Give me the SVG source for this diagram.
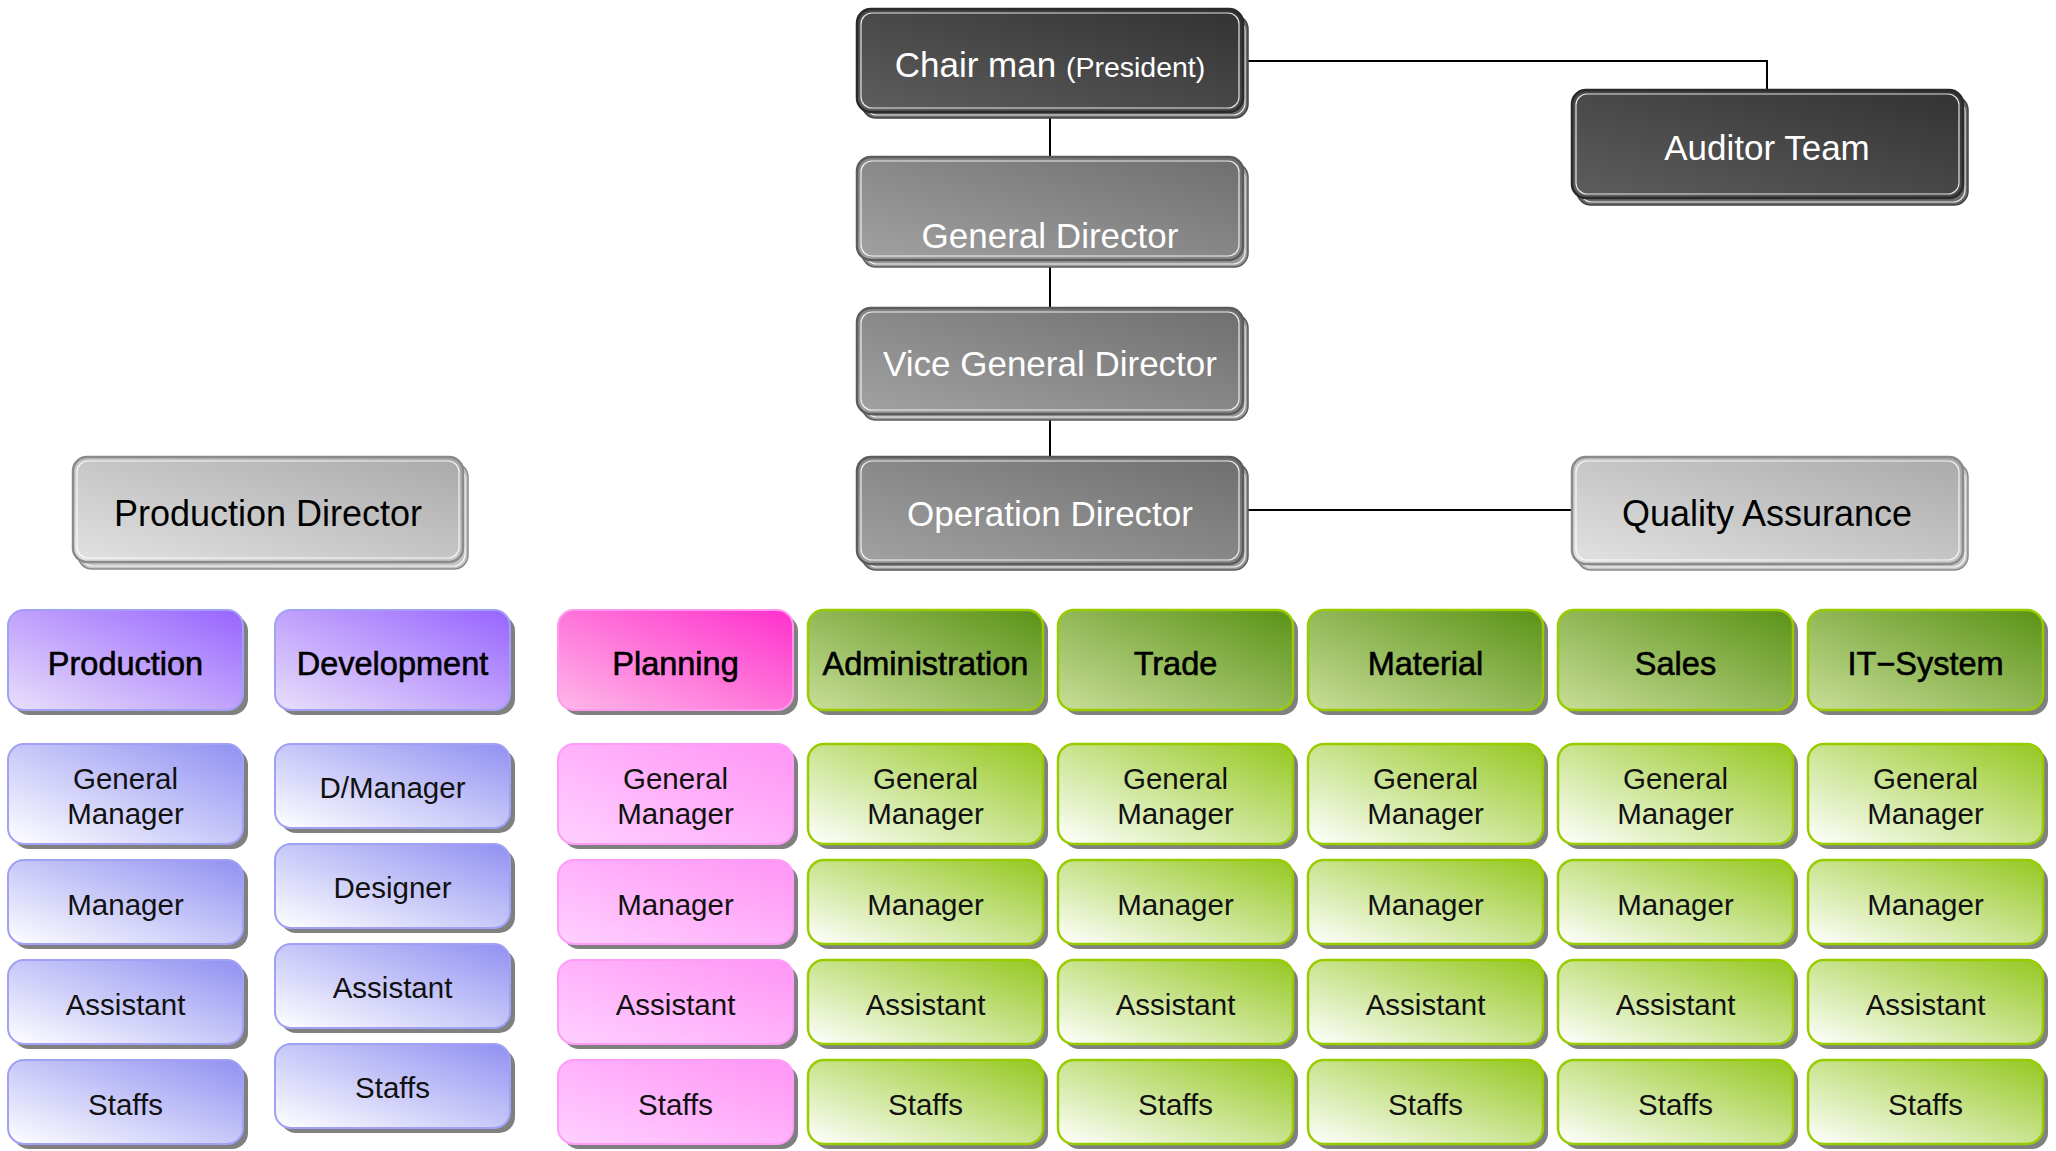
<svg xmlns="http://www.w3.org/2000/svg" width="2056" height="1151" viewBox="0 0 2056 1151">
<defs>
<linearGradient id="gDark" x1="0" y1="1" x2="1" y2="0"><stop offset="0" stop-color="#5e5e5e"/><stop offset="1" stop-color="#323232"/></linearGradient>
<linearGradient id="gMid" x1="0" y1="1" x2="1" y2="0"><stop offset="0" stop-color="#a2a2a2"/><stop offset="1" stop-color="#6e6e6e"/></linearGradient>
<linearGradient id="gLight" x1="0" y1="1" x2="1" y2="0"><stop offset="0" stop-color="#e2e2e2"/><stop offset="1" stop-color="#a9a9a9"/></linearGradient>
<linearGradient id="gPurH" x1="0" y1="1" x2="1" y2="0"><stop offset="0" stop-color="#e8e0fa"/><stop offset="1" stop-color="#9863ff"/></linearGradient>
<linearGradient id="gPurS" x1="0" y1="1" x2="1" y2="0"><stop offset="0" stop-color="#ffffff"/><stop offset="1" stop-color="#9090f2"/></linearGradient>
<linearGradient id="gPinH" x1="0" y1="1" x2="1" y2="0"><stop offset="0" stop-color="#ffb8e8"/><stop offset="1" stop-color="#ff30cc"/></linearGradient>
<linearGradient id="gPinS" x1="0" y1="1" x2="1" y2="0"><stop offset="0" stop-color="#ffd0ff"/><stop offset="1" stop-color="#ff94f5"/></linearGradient>
<linearGradient id="gGrnH" x1="0" y1="1" x2="1" y2="0"><stop offset="0" stop-color="#c8de98"/><stop offset="1" stop-color="#5a9216"/></linearGradient>
<linearGradient id="gGrnS" x1="0" y1="1" x2="1" y2="0"><stop offset="0" stop-color="#ffffff"/><stop offset="1" stop-color="#94c820"/></linearGradient>
</defs>
<style>
text{font-family:"Liberation Sans",Arial,sans-serif;text-anchor:middle}
.tw{fill:#ffffff;font-size:35px}
.tb{fill:#000000;font-size:36px}
.th{fill:#000;font-size:32.5px;stroke:#000;stroke-width:0.6}
.ts{fill:#111;font-size:29.5px}
.sh{fill:#808080}
.hl{fill:none;stroke:#ffffff;stroke-width:1.2;opacity:0.85}
.dark{fill:url(#gDark);stroke:#2a2a2a;stroke-width:2.5}
.darksh{fill:#6a6a6a;stroke:#444;stroke-width:1.5}
.mid{fill:url(#gMid);stroke:#5c5c5c;stroke-width:2.5}
.midsh{fill:#9a9a9a;stroke:#5c5c5c;stroke-width:1.5}
.light{fill:url(#gLight);stroke:#8a8a8a;stroke-width:2.5}
.lightsh{fill:#c4c4c4;stroke:#8a8a8a;stroke-width:1.5}
.purH{fill:url(#gPurH);stroke:#a0a0f4;stroke-width:2}
.purS{fill:url(#gPurS);stroke:#a0a0f4;stroke-width:2}
.pinH{fill:url(#gPinH);stroke:#ff99ee;stroke-width:2}
.pinS{fill:url(#gPinS);stroke:#ff9cf8;stroke-width:2}
.grnH{fill:url(#gGrnH);stroke:#99cc00;stroke-width:2.5}
.grnS{fill:url(#gGrnS);stroke:#99cc00;stroke-width:2.5}
.conn{fill:none;stroke:#000;stroke-width:2}
</style>
<rect width="2056" height="1151" fill="#ffffff"/>

<g id="connectors">
<line class="conn" x1="1050" y1="112" x2="1050" y2="157"/>
<line class="conn" x1="1050" y1="262" x2="1050" y2="308"/>
<line class="conn" x1="1050" y1="415" x2="1050" y2="457"/>
<polyline class="conn" points="1245,61 1767,61 1767,91"/>
<line class="conn" x1="1245" y1="510" x2="1572" y2="510"/>
</g>

<g id="chairman">
<rect class="darksh" x="862" y="15" width="386" height="103" rx="14"/>
<rect class="hl" x="865" y="19" width="380" height="96" rx="12"/>
<rect class="dark" x="857" y="9" width="386" height="103" rx="14"/>
<rect class="hl" x="861" y="13" width="378" height="95" rx="11"/>
<text x="1050" y="77"><tspan class="tw">Chair man </tspan><tspan fill="#fff" font-size="28.5">(President)</tspan></text>
</g>

<g id="auditor-team">
<rect class="darksh" x="1577" y="96" width="391" height="109" rx="14"/>
<rect class="hl" x="1580" y="100" width="385" height="102" rx="12"/>
<rect class="dark" x="1572" y="90" width="391" height="108" rx="14"/>
<rect class="hl" x="1576" y="94" width="383" height="100" rx="11"/>
<text class="tw" x="1767" y="160">Auditor Team</text>
</g>

<g id="general-director">
<rect class="midsh" x="862" y="163" width="386" height="104" rx="14"/>
<rect class="hl" x="865" y="167" width="380" height="97" rx="12"/>
<rect class="mid" x="857" y="157" width="386" height="103" rx="14"/>
<rect class="hl" x="861" y="161" width="378" height="95" rx="11"/>
<text class="tw" x="1050" y="248">General Director</text>
</g>

<g id="vice-general-director">
<rect class="midsh" x="862" y="314" width="386" height="106" rx="14"/>
<rect class="hl" x="865" y="318" width="380" height="99" rx="12"/>
<rect class="mid" x="857" y="308" width="386" height="106" rx="14"/>
<rect class="hl" x="861" y="312" width="378" height="98" rx="11"/>
<text class="tw" x="1050" y="376">Vice General Director</text>
</g>

<g id="operation-director">
<rect class="midsh" x="862" y="463" width="386" height="107" rx="14"/>
<rect class="hl" x="865" y="467" width="380" height="100" rx="12"/>
<rect class="mid" x="857" y="457" width="386" height="107" rx="14"/>
<rect class="hl" x="861" y="461" width="378" height="99" rx="11"/>
<text class="tw" x="1050" y="526">Operation Director</text>
</g>

<g id="production-director">
<rect class="lightsh" x="78" y="463" width="390" height="106" rx="14"/>
<rect class="hl" x="81" y="467" width="384" height="99" rx="12"/>
<rect class="light" x="73" y="457" width="390" height="105" rx="14"/>
<rect class="hl" x="77" y="461" width="382" height="97" rx="11"/>
<text class="tb" x="268" y="526">Production Director</text>
</g>

<g id="quality-assurance">
<rect class="lightsh" x="1577" y="463" width="391" height="107" rx="14"/>
<rect class="hl" x="1580" y="467" width="385" height="100" rx="12"/>
<rect class="light" x="1572" y="457" width="391" height="107" rx="14"/>
<rect class="hl" x="1576" y="461" width="383" height="99" rx="11"/>
<text class="tb" x="1767" y="526">Quality Assurance</text>
</g>

<!-- Production column -->
<g id="production">
<rect class="sh" x="13" y="615" width="235" height="100" rx="16"/>
<rect class="purH" x="8" y="610" width="235" height="100" rx="16"/>
<text class="th" x="125.5" y="675">Production</text>
</g>
<g id="production-gm">
<rect class="sh" x="13" y="749" width="235" height="100" rx="16"/>
<rect class="purS" x="8" y="744" width="235" height="100" rx="16"/>
<text class="ts" x="125.5" y="789">General</text>
<text class="ts" x="125.5" y="824">Manager</text>
</g>
<g id="production-manager">
<rect class="sh" x="13" y="865" width="235" height="84" rx="16"/>
<rect class="purS" x="8" y="860" width="235" height="84" rx="16"/>
<text class="ts" x="125.5" y="915">Manager</text>
</g>
<g id="production-assistant">
<rect class="sh" x="13" y="965" width="235" height="84" rx="16"/>
<rect class="purS" x="8" y="960" width="235" height="84" rx="16"/>
<text class="ts" x="125.5" y="1015">Assistant</text>
</g>
<g id="production-staffs">
<rect class="sh" x="13" y="1065" width="235" height="84" rx="16"/>
<rect class="purS" x="8" y="1060" width="235" height="84" rx="16"/>
<text class="ts" x="125.5" y="1115">Staffs</text>
</g>

<!-- Development column -->
<g id="development">
<rect class="sh" x="280" y="615" width="235" height="100" rx="16"/>
<rect class="purH" x="275" y="610" width="235" height="100" rx="16"/>
<text class="th" x="392.5" y="675">Development</text>
</g>
<g id="development-dmanager">
<rect class="sh" x="280" y="749" width="235" height="84" rx="16"/>
<rect class="purS" x="275" y="744" width="235" height="84" rx="16"/>
<text class="ts" x="392.5" y="798">D/Manager</text>
</g>
<g id="development-designer">
<rect class="sh" x="280" y="849" width="235" height="84" rx="16"/>
<rect class="purS" x="275" y="844" width="235" height="84" rx="16"/>
<text class="ts" x="392.5" y="898">Designer</text>
</g>
<g id="development-assistant">
<rect class="sh" x="280" y="949" width="235" height="84" rx="16"/>
<rect class="purS" x="275" y="944" width="235" height="84" rx="16"/>
<text class="ts" x="392.5" y="998">Assistant</text>
</g>
<g id="development-staffs">
<rect class="sh" x="280" y="1049" width="235" height="84" rx="16"/>
<rect class="purS" x="275" y="1044" width="235" height="84" rx="16"/>
<text class="ts" x="392.5" y="1098">Staffs</text>
</g>

<!-- Planning column -->
<g id="planning">
<rect class="sh" x="563" y="615" width="235" height="100" rx="16"/>
<rect class="pinH" x="558" y="610" width="235" height="100" rx="16"/>
<text class="th" x="675.5" y="675">Planning</text>
</g>
<g id="planning-gm">
<rect class="sh" x="563" y="749" width="235" height="100" rx="16"/>
<rect class="pinS" x="558" y="744" width="235" height="100" rx="16"/>
<text class="ts" x="675.5" y="789">General</text>
<text class="ts" x="675.5" y="824">Manager</text>
</g>
<g id="planning-manager">
<rect class="sh" x="563" y="865" width="235" height="84" rx="16"/>
<rect class="pinS" x="558" y="860" width="235" height="84" rx="16"/>
<text class="ts" x="675.5" y="915">Manager</text>
</g>
<g id="planning-assistant">
<rect class="sh" x="563" y="965" width="235" height="84" rx="16"/>
<rect class="pinS" x="558" y="960" width="235" height="84" rx="16"/>
<text class="ts" x="675.5" y="1015">Assistant</text>
</g>
<g id="planning-staffs">
<rect class="sh" x="563" y="1065" width="235" height="84" rx="16"/>
<rect class="pinS" x="558" y="1060" width="235" height="84" rx="16"/>
<text class="ts" x="675.5" y="1115">Staffs</text>
</g>

<!-- Administration -->
<g id="administration">
<rect class="sh" x="813" y="615" width="235" height="100" rx="16"/>
<rect class="grnH" x="808" y="610" width="235" height="100" rx="16"/>
<text class="th" x="925.5" y="675">Administration</text>
</g>
<g id="administration-gm">
<rect class="sh" x="813" y="749" width="235" height="100" rx="16"/>
<rect class="grnS" x="808" y="744" width="235" height="100" rx="16"/>
<text class="ts" x="925.5" y="789">General</text>
<text class="ts" x="925.5" y="824">Manager</text>
</g>
<g id="administration-manager">
<rect class="sh" x="813" y="865" width="235" height="84" rx="16"/>
<rect class="grnS" x="808" y="860" width="235" height="84" rx="16"/>
<text class="ts" x="925.5" y="915">Manager</text>
</g>
<g id="administration-assistant">
<rect class="sh" x="813" y="965" width="235" height="84" rx="16"/>
<rect class="grnS" x="808" y="960" width="235" height="84" rx="16"/>
<text class="ts" x="925.5" y="1015">Assistant</text>
</g>
<g id="administration-staffs">
<rect class="sh" x="813" y="1065" width="235" height="84" rx="16"/>
<rect class="grnS" x="808" y="1060" width="235" height="84" rx="16"/>
<text class="ts" x="925.5" y="1115">Staffs</text>
</g>

<!-- Trade -->
<g id="trade">
<rect class="sh" x="1063" y="615" width="235" height="100" rx="16"/>
<rect class="grnH" x="1058" y="610" width="235" height="100" rx="16"/>
<text class="th" x="1175.5" y="675">Trade</text>
</g>
<g id="trade-gm">
<rect class="sh" x="1063" y="749" width="235" height="100" rx="16"/>
<rect class="grnS" x="1058" y="744" width="235" height="100" rx="16"/>
<text class="ts" x="1175.5" y="789">General</text>
<text class="ts" x="1175.5" y="824">Manager</text>
</g>
<g id="trade-manager">
<rect class="sh" x="1063" y="865" width="235" height="84" rx="16"/>
<rect class="grnS" x="1058" y="860" width="235" height="84" rx="16"/>
<text class="ts" x="1175.5" y="915">Manager</text>
</g>
<g id="trade-assistant">
<rect class="sh" x="1063" y="965" width="235" height="84" rx="16"/>
<rect class="grnS" x="1058" y="960" width="235" height="84" rx="16"/>
<text class="ts" x="1175.5" y="1015">Assistant</text>
</g>
<g id="trade-staffs">
<rect class="sh" x="1063" y="1065" width="235" height="84" rx="16"/>
<rect class="grnS" x="1058" y="1060" width="235" height="84" rx="16"/>
<text class="ts" x="1175.5" y="1115">Staffs</text>
</g>

<!-- Material -->
<g id="material">
<rect class="sh" x="1313" y="615" width="235" height="100" rx="16"/>
<rect class="grnH" x="1308" y="610" width="235" height="100" rx="16"/>
<text class="th" x="1425.5" y="675">Material</text>
</g>
<g id="material-gm">
<rect class="sh" x="1313" y="749" width="235" height="100" rx="16"/>
<rect class="grnS" x="1308" y="744" width="235" height="100" rx="16"/>
<text class="ts" x="1425.5" y="789">General</text>
<text class="ts" x="1425.5" y="824">Manager</text>
</g>
<g id="material-manager">
<rect class="sh" x="1313" y="865" width="235" height="84" rx="16"/>
<rect class="grnS" x="1308" y="860" width="235" height="84" rx="16"/>
<text class="ts" x="1425.5" y="915">Manager</text>
</g>
<g id="material-assistant">
<rect class="sh" x="1313" y="965" width="235" height="84" rx="16"/>
<rect class="grnS" x="1308" y="960" width="235" height="84" rx="16"/>
<text class="ts" x="1425.5" y="1015">Assistant</text>
</g>
<g id="material-staffs">
<rect class="sh" x="1313" y="1065" width="235" height="84" rx="16"/>
<rect class="grnS" x="1308" y="1060" width="235" height="84" rx="16"/>
<text class="ts" x="1425.5" y="1115">Staffs</text>
</g>

<!-- Sales -->
<g id="sales">
<rect class="sh" x="1563" y="615" width="235" height="100" rx="16"/>
<rect class="grnH" x="1558" y="610" width="235" height="100" rx="16"/>
<text class="th" x="1675.5" y="675">Sales</text>
</g>
<g id="sales-gm">
<rect class="sh" x="1563" y="749" width="235" height="100" rx="16"/>
<rect class="grnS" x="1558" y="744" width="235" height="100" rx="16"/>
<text class="ts" x="1675.5" y="789">General</text>
<text class="ts" x="1675.5" y="824">Manager</text>
</g>
<g id="sales-manager">
<rect class="sh" x="1563" y="865" width="235" height="84" rx="16"/>
<rect class="grnS" x="1558" y="860" width="235" height="84" rx="16"/>
<text class="ts" x="1675.5" y="915">Manager</text>
</g>
<g id="sales-assistant">
<rect class="sh" x="1563" y="965" width="235" height="84" rx="16"/>
<rect class="grnS" x="1558" y="960" width="235" height="84" rx="16"/>
<text class="ts" x="1675.5" y="1015">Assistant</text>
</g>
<g id="sales-staffs">
<rect class="sh" x="1563" y="1065" width="235" height="84" rx="16"/>
<rect class="grnS" x="1558" y="1060" width="235" height="84" rx="16"/>
<text class="ts" x="1675.5" y="1115">Staffs</text>
</g>

<!-- IT-System -->
<g id="it-system">
<rect class="sh" x="1813" y="615" width="235" height="100" rx="16"/>
<rect class="grnH" x="1808" y="610" width="235" height="100" rx="16"/>
<text class="th" x="1925.5" y="675">IT−System</text>
</g>
<g id="it-system-gm">
<rect class="sh" x="1813" y="749" width="235" height="100" rx="16"/>
<rect class="grnS" x="1808" y="744" width="235" height="100" rx="16"/>
<text class="ts" x="1925.5" y="789">General</text>
<text class="ts" x="1925.5" y="824">Manager</text>
</g>
<g id="it-system-manager">
<rect class="sh" x="1813" y="865" width="235" height="84" rx="16"/>
<rect class="grnS" x="1808" y="860" width="235" height="84" rx="16"/>
<text class="ts" x="1925.5" y="915">Manager</text>
</g>
<g id="it-system-assistant">
<rect class="sh" x="1813" y="965" width="235" height="84" rx="16"/>
<rect class="grnS" x="1808" y="960" width="235" height="84" rx="16"/>
<text class="ts" x="1925.5" y="1015">Assistant</text>
</g>
<g id="it-system-staffs">
<rect class="sh" x="1813" y="1065" width="235" height="84" rx="16"/>
<rect class="grnS" x="1808" y="1060" width="235" height="84" rx="16"/>
<text class="ts" x="1925.5" y="1115">Staffs</text>
</g>
</svg>
